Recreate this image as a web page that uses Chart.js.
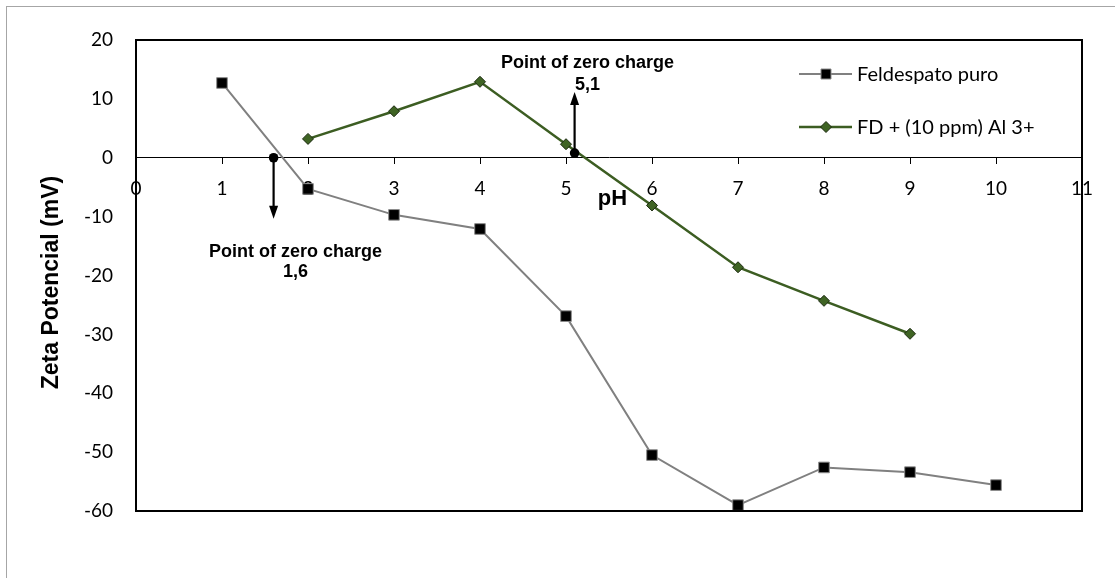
<!DOCTYPE html>
<html>
<head>
<meta charset="utf-8">
<title>Zeta Potencial vs pH</title>
<script src="https://cdn.jsdelivr.net/npm/chart.js@4/dist/chart.umd.min.js"></script>
<style>
  html, body { margin: 0; padding: 0; background: #ffffff; }
  #wrap { width: 1115px; height: 578px; position: relative; }
</style>
</head>
<body>
<div id="wrap"><canvas id="chart" width="1115" height="578"></canvas></div>
<script>
// pH values and zeta potential (mV) for each series
const phPuro = [1, 2, 3, 4, 5, 6, 7, 8, 9, 10];
const zetaPuro = [12.7, -5.3, -9.7, -12.1, -26.9, -50.5, -59.0, -52.6, -53.4, -55.6];
const phAl = [2, 3, 4, 5, 6, 7, 8, 9];
const zetaAl = [3.2, 7.9, 12.9, 2.3, -8.1, -18.6, -24.3, -29.9];

const seriesNames = ['Feldespato puro', 'FD + (10 ppm) Al 3+'];

// Points of zero charge: pH, marker level, label
const pzcPH = [1.6, 5.1];
const pzcZeta = [0, 0.8];
const pzcLabels = ['1,6', '5,1'];

// Axis ticks
const xTicks = [0, 1, 2, 3, 4, 5, 6, 7, 8, 9, 10, 11];
const yTicks = [20, 10, 0, -10, -20, -30, -40, -50, -60];

const GREEN = '#3c5d22';
const GRAY = '#808080';
const TICK_FONT = 'Lato, "Open Sans", sans-serif';
const BOLD_FONT = '"Liberation Sans", Arial, sans-serif';

// Frame around the plot area and the outer chart border
const framePlugin = {
  id: 'frame',
  beforeDraw(chart) {
    const ctx = chart.ctx;
    ctx.save();
    ctx.fillStyle = '#ffffff';
    ctx.fillRect(0, 0, chart.width, chart.height);
    ctx.strokeStyle = '#a6a6a6';
    ctx.lineWidth = 1;
    ctx.strokeRect(6.5, 6.5, chart.width + 50, chart.height + 50);
    ctx.restore();
  },
  afterDraw(chart) {
    const { ctx, chartArea: a } = chart;
    ctx.save();
    ctx.strokeStyle = '#000000';
    ctx.lineWidth = 2;
    ctx.strokeRect(a.left, a.top, a.right - a.left, a.bottom - a.top);
    ctx.restore();
  }
};

// Points of zero charge: dot, arrow and caption
const pzcPlugin = {
  id: 'pzc',
  afterDatasetsDraw(chart) {
    const { ctx, scales: { x, y } } = chart;
    const dirs = [1, -1];            // arrow downward for the first, upward for the second
    const captionDy = [94, -90];     // caption first line offset from the dot (px)
    const captionDx = [22, 13];
    const lineGap = [20, 22];
    ctx.save();
    pzcPH.forEach((ph, i) => {
      const px = x.getPixelForValue(ph);
      const py = y.getPixelForValue(pzcZeta[i]);
      const len = 61;
      const tipY = py + dirs[i] * len;
      // shaft
      ctx.strokeStyle = '#000';
      ctx.lineWidth = 2.2;
      ctx.beginPath();
      ctx.moveTo(px, py);
      ctx.lineTo(px, tipY - dirs[i] * 10);
      ctx.stroke();
      // head
      ctx.fillStyle = '#000';
      ctx.beginPath();
      ctx.moveTo(px, tipY);
      ctx.lineTo(px - 4.5, tipY - dirs[i] * 13);
      ctx.lineTo(px + 4.5, tipY - dirs[i] * 13);
      ctx.closePath();
      ctx.fill();
      // dot
      ctx.beginPath();
      ctx.arc(px, py, 4.8, 0, Math.PI * 2);
      ctx.fill();
      // caption
      ctx.font = 'bold 18px ' + BOLD_FONT;
      ctx.textAlign = 'center';
      ctx.textBaseline = 'middle';
      const cx = px + captionDx[i];
      const cy = py + captionDy[i];
      ctx.fillText('Point of zero charge', cx, cy);
      ctx.fillText(pzcLabels[i], cx, cy + lineGap[i]);
    });
    ctx.restore();
  }
};

// Axis titles drawn at fixed spots beside the axes
const titlePlugin = {
  id: 'axisTitles',
  afterDraw(chart) {
    const { ctx, scales: { x, y } } = chart;
    ctx.save();
    ctx.fillStyle = '#000';
    ctx.font = 'bold 22px ' + BOLD_FONT;
    ctx.textAlign = 'center';
    ctx.textBaseline = 'middle';
    ctx.fillText('pH', x.getPixelForValue(5.54), y.getPixelForValue(0) + 41);
    ctx.font = 'bold 23px ' + BOLD_FONT;
    ctx.translate(52, y.getPixelForValue(-21.2));
    ctx.rotate(-Math.PI / 2);
    ctx.fillText('Zeta Potencial (mV)', 0, 0);
    ctx.restore();
  }
};

// Legend drawn inside the plot area with line + marker samples
const legendPlugin = {
  id: 'innerLegend',
  afterDraw(chart) {
    const ctx = chart.ctx;
    const rows = [74, 127];
    const x0 = 799, x1 = 852, mx = 826, tx = 857;
    ctx.save();
    chart.data.datasets.forEach((ds, i) => {
      const yy = rows[i];
      ctx.strokeStyle = ds.borderColor;
      ctx.lineWidth = ds.borderWidth;
      ctx.beginPath();
      ctx.moveTo(x0, yy);
      ctx.lineTo(x1, yy);
      ctx.stroke();
      ctx.fillStyle = ds.pointBackgroundColor;
      ctx.strokeStyle = ds.pointBorderColor;
      ctx.lineWidth = 1;
      ctx.beginPath();
      if (ds.pointStyle === 'rect') {
        ctx.rect(mx - 5, yy - 5, 10, 10);
      } else {
        ctx.moveTo(mx, yy - 5.5);
        ctx.lineTo(mx + 5.5, yy);
        ctx.lineTo(mx, yy + 5.5);
        ctx.lineTo(mx - 5.5, yy);
        ctx.closePath();
      }
      ctx.fill();
      ctx.stroke();
      ctx.fillStyle = '#000';
      ctx.font = '20px ' + TICK_FONT;
      ctx.textAlign = 'left';
      ctx.textBaseline = 'middle';
      ctx.fillText(seriesNames[i], tx, yy + 1);
    });
    ctx.restore();
  }
};

new Chart(document.getElementById('chart'), {
  type: 'line',
  data: {
    datasets: [
      {
        label: seriesNames[0],
        data: phPuro.map((p, i) => ({ x: p, y: zetaPuro[i] })),
        borderColor: GRAY,
        borderWidth: 2,
        pointStyle: 'rect',
        pointRadius: 7.5,
        pointBackgroundColor: '#000000',
        pointBorderColor: '#8c8c8c',
        pointBorderWidth: 1,
        tension: 0
      },
      {
        label: seriesNames[1],
        data: phAl.map((p, i) => ({ x: p, y: zetaAl[i] })),
        borderColor: GREEN,
        borderWidth: 2.5,
        pointStyle: 'rectRot',
        pointRadius: 5.5,
        pointBackgroundColor: '#3f6424',
        pointBorderColor: '#1c2a10',
        pointBorderWidth: 1,
        tension: 0
      }
    ]
  },
  options: {
    responsive: false,
    animation: false,
    events: [],
    layout: { padding: { top: 40, right: 33, bottom: 67, left: 0 } },
    plugins: {
      legend: { display: false },
      tooltip: { enabled: false }
    },
    scales: {
      x: {
        type: 'linear',
        position: { y: 0 },
        min: xTicks[0],
        max: xTicks[xTicks.length - 1],
        afterBuildTicks(scale) { scale.ticks = xTicks.map(v => ({ value: v })); },
        grid: { display: true, drawOnChartArea: false, drawTicks: true, tickLength: 6, color: '#000', lineWidth: 1 },
        border: { display: true, color: '#000', width: 1 },
        ticks: { color: '#000', font: { family: TICK_FONT, size: 19 }, padding: 14, maxRotation: 0, autoSkip: false }
      },
      y: {
        type: 'linear',
        position: 'left',
        min: yTicks[yTicks.length - 1],
        max: yTicks[0],
        afterBuildTicks(scale) { scale.ticks = yTicks.map(v => ({ value: v })); },
        afterFit(scale) { scale.width = 136; },
        grid: { display: false, drawTicks: false },
        border: { display: false },
        ticks: { color: '#000', font: { family: TICK_FONT, size: 19 }, padding: 23 }
      }
    }
  },
  plugins: [framePlugin, pzcPlugin, titlePlugin, legendPlugin]
});
</script>
</body>
</html>
